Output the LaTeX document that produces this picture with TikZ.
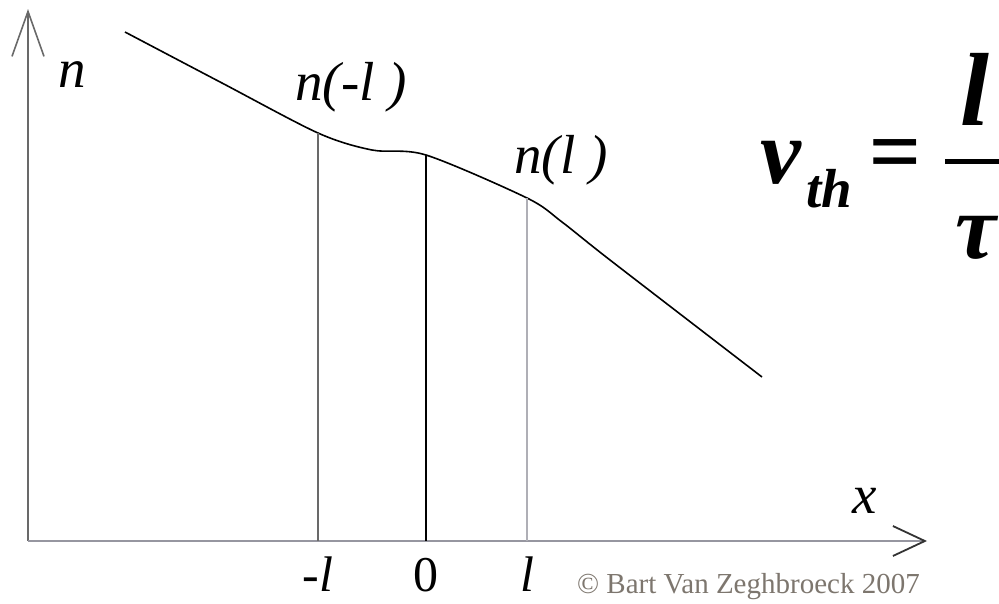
\documentclass[tikz,border=0pt]{standalone}
\usepackage{fontspec}
\setmainfont{Liberation Serif}
\usetikzlibrary{arrows.meta}
\definecolor{axisgray}{RGB}{105,105,105}
\definecolor{baseline}{RGB}{150,150,160}
\definecolor{lightline}{RGB}{175,175,182}
\definecolor{notegray}{RGB}{125,118,110}
\tikzset{
 axisline/.style={line width=1.6pt, draw=axisgray},
 profile/.style={line width=1.6pt, draw=black},
 levelline/.style={line width=1.2pt},
 varlabel/.style={font=\fontsize{55}{60}\selectfont\itshape, inner sep=0pt},
 ticklabel/.style={font=\fontsize{50}{54}\selectfont, inner sep=0pt},
 formula/.style={font=\fontsize{92}{96}\selectfont\bfseries\itshape, inner sep=0pt}
}

\begin{document}
\begin{tikzpicture}[x=1pt, y=-1pt]
 \useasboundingbox (0,0) rectangle (999,603);
 \clip (0,0) rectangle (999,603);

 \coordinate (origin) at (28,541);
 \coordinate (ytip) at (28,9);
 \coordinate (xtip) at (927,541);
 \coordinate (start) at (125,32);
 \coordinate (nminus) at (318,133);
 \coordinate (nzero) at (426,155);
 \coordinate (nplus) at (527,198);
 \coordinate (finish) at (762,377);

 \draw[axisline, -{Straight Barb[length=45pt, width=32pt]}] (origin) -- (ytip);
 \draw[axisline, line width=2.6pt, draw=baseline, -{Straight Barb[length=32pt, width=30pt, line width=1.8pt, color=black!80]}] (origin) -- (xtip);

 \draw[profile] plot[smooth, tension=0.5] coordinates {(start) (222,83) (nminus) (372,150) (nzero) (nplus) (562,222) (610,260) (finish)};

 \draw[levelline, draw=axisgray] (nminus) -- (nminus |- origin);
 \draw[levelline, draw=black, line width=1.6pt] (nzero) -- (nzero |- origin);
 \draw[levelline, draw=lightline] (nplus) -- (nplus |- origin);

 \node[varlabel, anchor=base] (nlab) at (72,87) {n};
 \node[varlabel, anchor=base] (nminuslab) at (351,100) {n(-l )};
 \node[varlabel, anchor=base] (npluslab) at (561,173) {n(l )};
 \node[varlabel, anchor=base] (xlab) at (865,513) {x};

 \node[ticklabel, anchor=base] (tminus) at (nminus |- 0,591) {\itshape -l};
 \node[ticklabel, anchor=base] (tzero) at (nzero |- 0,591) {0};
 \node[ticklabel, anchor=base] (tplus) at (nplus |- 0,591) {\itshape l};
 \node[anchor=base west, font=\fontsize{29}{32}\selectfont, text=notegray, inner sep=0pt] (credit) at (577,593) {© Bart Van Zeghbroeck 2007};

 \node[formula, anchor=base west] (nu) at (760,183) {ν};
 \node[formula, font=\fontsize{55}{58}\selectfont\bfseries\itshape, anchor=base west] (th) at (806,207) {th};
 \node[formula, anchor=base west] (eq) at (868,182) {=};
 \coordinate (barl) at (945,161);
 \coordinate (barr) at (1010,161);
 \draw[line width=5pt] (barl) -- (barr);
 \node[formula, font=\fontsize{104}{108}\selectfont\bfseries\itshape, anchor=base] (ell) at (975,125) {l};
 \node[formula, anchor=base] (tau) at (976,258) {τ};
\end{tikzpicture}
\end{document}
